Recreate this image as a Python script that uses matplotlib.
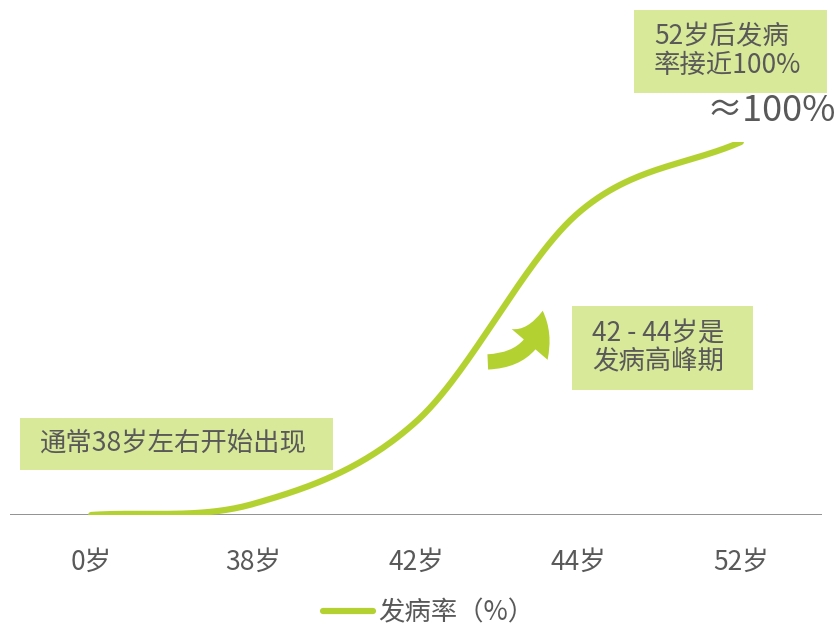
import numpy as np
import matplotlib
matplotlib.use("Agg")
import matplotlib.pyplot as plt
from matplotlib.patches import Rectangle, FancyArrowPatch

plt.rcParams['font.family'] = ['Noto Sans CJK SC', 'DejaVu Sans']

categories = ["0岁", "38岁", "42岁", "44岁", "52岁"]
rate = [0, 3, 25, 81, 100]
series_name = "发病率（%）"
note_start = "通常38岁左右开始出现"
note_peak = "42 - 44岁是\n发病高峰期"
note_end = "52岁后发病\n率接近100%"
end_label = "≈100%"

LINE = "#b3d232"
BOX = "#d8e999"
TXT = "#595959"

W, H = 836, 627
fig = plt.figure(figsize=(W / 100, H / 100), dpi=100)

def fx(x):
    return x / W

def fy(y):
    return 1 - y / H

ax = fig.add_axes([fx(10), fy(515), fx(822) - fx(10), fy(142) - fy(515)])

# Catmull-Rom smoothing (like Excel smoothed line)
xs = np.arange(len(rate), dtype=float)
ys = np.array(rate, dtype=float)
px, py = [], []
n = len(xs)
for i in range(n - 1):
    p0 = ys[i - 1] if i > 0 else ys[i]
    p1, p2 = ys[i], ys[i + 1]
    p3 = ys[i + 2] if i + 2 < n else ys[i + 1]
    m1 = (p2 - p0) / (2 if i > 0 else 1)
    m2 = (p3 - p1) / (2 if i + 2 < n else 1)
    t = np.linspace(0, 1, 60)
    h00 = 2 * t**3 - 3 * t**2 + 1
    h10 = t**3 - 2 * t**2 + t
    h01 = -2 * t**3 + 3 * t**2
    h11 = t**3 - t**2
    seg = h00 * p1 + h10 * m1 + h01 * p2 + h11 * m2
    px.append(xs[i] + t)
    py.append(seg)
px = np.concatenate(px)
py = np.maximum(np.concatenate(py), 0)

line, = ax.plot(px, py, color=LINE, lw=4.5, solid_capstyle='round', zorder=3,
                label=series_name)
ax.axhline(0, color="#7f7f7f", lw=1.2, zorder=2)

ax.set_xlim(-0.5, len(categories) - 0.5)
ax.set_ylim(0, 100)
ax.set_xticks(xs)
ax.set_xticklabels(categories, fontsize=19, color=TXT)
ax.tick_params(axis='x', length=0, pad=24)
ax.set_yticks([])
for s in ax.spines.values():
    s.set_visible(False)
ax.patch.set_alpha(0)

leg = fig.legend(handles=[line], loc='center', bbox_to_anchor=(fx(429), fy(613)),
                 frameon=False, fontsize=19, handlelength=1.9, handletextpad=0.2,
                 borderpad=0)
for t in leg.get_texts():
    t.set_color(TXT)

def box(x0, y0, x1, y1, text, tx, ty, ha='left', fs=19, ls=1.05):
    fig.patches.append(Rectangle((fx(x0), fy(y1)), fx(x1) - fx(x0), fy(y0) - fy(y1),
                                 transform=fig.transFigure, facecolor=BOX,
                                 edgecolor='none', zorder=1))
    fig.text(fx(tx), fy(ty), text, ha=ha, va='center', fontsize=fs, color=TXT,
             linespacing=ls)

box(20, 418, 333, 470, note_start, 40, 444)
box(572, 306, 753, 390, note_peak, 592, 348)
box(634, 10, 827, 93, note_end, 654, 51)
fig.text(fx(836), fy(111), end_label, ha='right', va='center', fontsize=26, color=TXT)

arrow = FancyArrowPatch((fx(485), fy(362)), (fx(543), fy(308)),
                        transform=fig.transFigure,
                        connectionstyle="arc3,rad=0.45",
                        arrowstyle="simple,head_width=1.7,head_length=1.3,tail_width=0.55",
                        mutation_scale=20, color=LINE, lw=0, zorder=4)
fig.patches.append(arrow)

fig.savefig("out.png", dpi=100)
